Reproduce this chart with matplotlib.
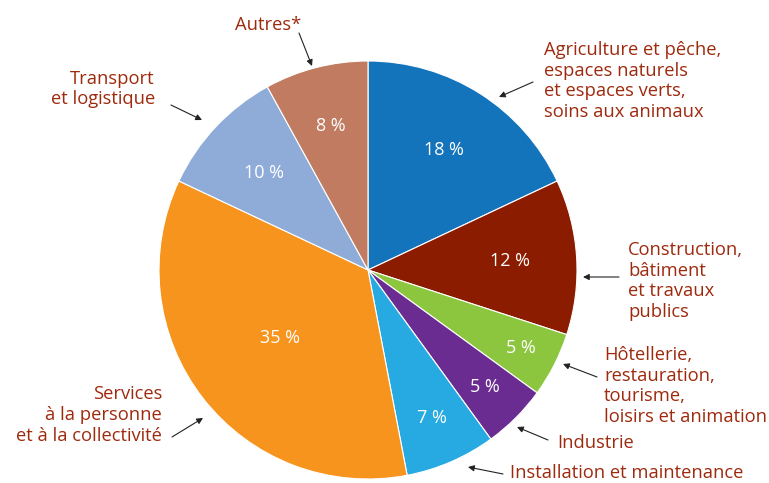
import numpy as np
import matplotlib
matplotlib.use('Agg')
import matplotlib.pyplot as plt

plt.rcParams['font.family'] = ['Open Sans', 'DejaVu Sans']

# ── Data ──────────────────────────────────────────────────────────────────────
categories = [
    "Agriculture et pêche,\nespaces naturels\net espaces verts,\nsoins aux animaux",
    "Construction,\nbâtiment\net travaux\npublics",
    "Hôtellerie,\nrestauration,\ntourisme,\nloisirs et animation",
    "Industrie",
    "Installation et maintenance",
    "Services\nà la personne\net à la collectivité",
    "Transport\net logistique",
    "Autres*",
]
shares = [18, 12, 5, 5, 7, 35, 10, 8]
colors = ['#1474bb', '#8c1c00', '#8cc63f', '#6a2c91', '#27aae1',
          '#f7941d', '#8facd9', '#c07b60']

# radial position of the percentage inside each wedge
pct_radius = [0.68, 0.68, 0.82, 0.79, 0.77, 0.53, 0.68, 0.71]

# label placement in pixels (x, y from top), alignment, arrow tail -> head
label_pos = [
    (544, 81, 'left'), (628, 281, 'left'), (604, 386, 'left'),
    (557, 443, 'left'), (510, 473, 'left'), (162, 415, 'right'),
    (155, 89, 'right'), (268, 25, 'center'),
]
arrows = [
    ((533, 82), (499, 97)), ((619, 277), (583, 277)), ((597, 377), (563, 364)),
    ((548, 440), (517, 427)), ((503, 474), (468, 467)), ((172, 437), (203, 418)),
    ((171, 105), (202, 120)), ((299, 33), (312, 66)),
]

W, H = 769, 483
TEXT = '#9e2a0e'

fig = plt.figure(figsize=(W / 100, H / 100), dpi=100)
ax = fig.add_axes([0, 0, 1, 1])

cx, cy, r = 368, H - 270, 209
wedges, _ = ax.pie(shares, colors=colors, startangle=90, counterclock=False,
                   center=(cx, cy), radius=r, frame=True,
                   wedgeprops=dict(edgecolor='white', linewidth=0.8))
ax.set_xlim(0, W)
ax.set_ylim(0, H)
ax.set_aspect('equal')
ax.axis('off')

for w, val, d in zip(wedges, shares, pct_radius):
    ang = np.deg2rad((w.theta1 + w.theta2) / 2)
    ax.text(cx + d * r * np.cos(ang), cy + d * r * np.sin(ang), f"{val} %",
            color='white', fontsize=13, ha='center', va='center')

for txt, (x, y, ha), (tail, head) in zip(categories, label_pos, arrows):
    ax.text(x, H - y, txt, color=TEXT, fontsize=13.2, ha=ha, va='center',
            multialignment=ha, linespacing=1.18)
    ax.annotate('', xy=(head[0], H - head[1]), xytext=(tail[0], H - tail[1]),
                arrowprops=dict(arrowstyle='-|>', color='#222222', lw=0.8,
                                mutation_scale=9, shrinkA=0, shrinkB=0))

fig.savefig('out.png', dpi=100, facecolor='white')
